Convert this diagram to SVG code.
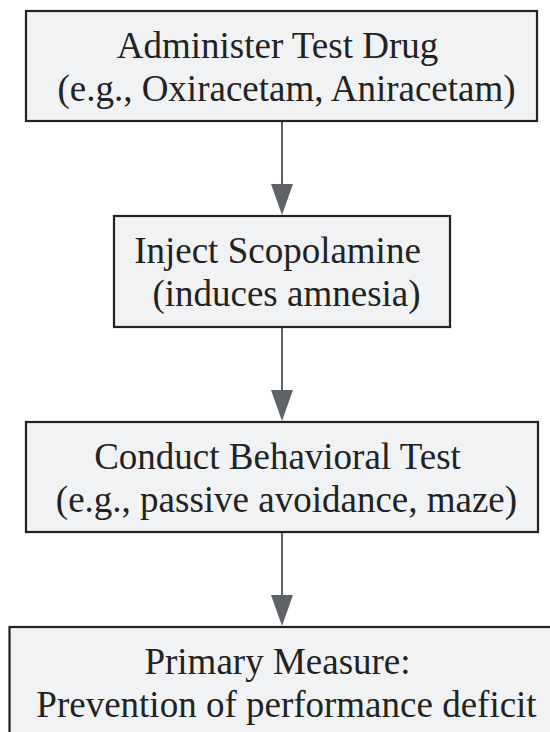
<svg xmlns="http://www.w3.org/2000/svg" width="550" height="732" viewBox="0 0 550 732">
<style>
.box{fill:#f1f2f4;stroke:#222;stroke-width:2.2}
.t{font-family:"Liberation Serif","Times New Roman",serif;font-size:37px;fill:#222;text-anchor:middle}
.edge{stroke:#5f6368;stroke-width:2;fill:none}
.head{fill:#5f6368}
</style>
<defs>
<marker id="arr" viewBox="0 0 22 31" refX="11" refY="31" markerWidth="22" markerHeight="31" markerUnits="userSpaceOnUse" orient="auto-start-reverse">
<path d="M0,0 L22,0 L11,31 Z" class="head"/>
</marker>
</defs>
<rect width="550" height="732" fill="#ffffff"/>
<g id="connectors">
<line class="edge" x1="282" y1="121" x2="282" y2="184"/>
<path class="head" d="M271,184 L293,184 L282,215 Z"/>
<line class="edge" x1="282" y1="327" x2="282" y2="390"/>
<path class="head" d="M271,390 L293,390 L282,421 Z"/>
<line class="edge" x1="282" y1="532" x2="282" y2="595"/>
<path class="head" d="M271,595 L293,595 L282,626 Z"/>
</g>
<g id="node1">
<rect class="box" x="26" y="11" width="511" height="110"/>
<text class="t" x="277.5" y="57.5">Administer Test Drug</text>
<text class="t" x="286.5" y="101">(e.g., Oxiracetam, Aniracetam)</text>
</g>
<g id="node2">
<rect class="box" x="114" y="216" width="336" height="111"/>
<text class="t" x="277.5" y="262.5">Inject Scopolamine</text>
<text class="t" x="286.5" y="306">(induces amnesia)</text>
</g>
<g id="node3">
<rect class="box" x="26" y="422" width="512" height="110"/>
<text class="t" x="277.5" y="468.5">Conduct Behavioral Test</text>
<text class="t" x="286.5" y="512">(e.g., passive avoidance, maze)</text>
</g>
<g id="node4">
<rect class="box" x="9.5" y="627" width="545" height="110"/>
<text class="t" x="277.5" y="673.5">Primary Measure:</text>
<text class="t" x="286.5" y="717">Prevention of performance deficit</text>
</g>
</svg>
